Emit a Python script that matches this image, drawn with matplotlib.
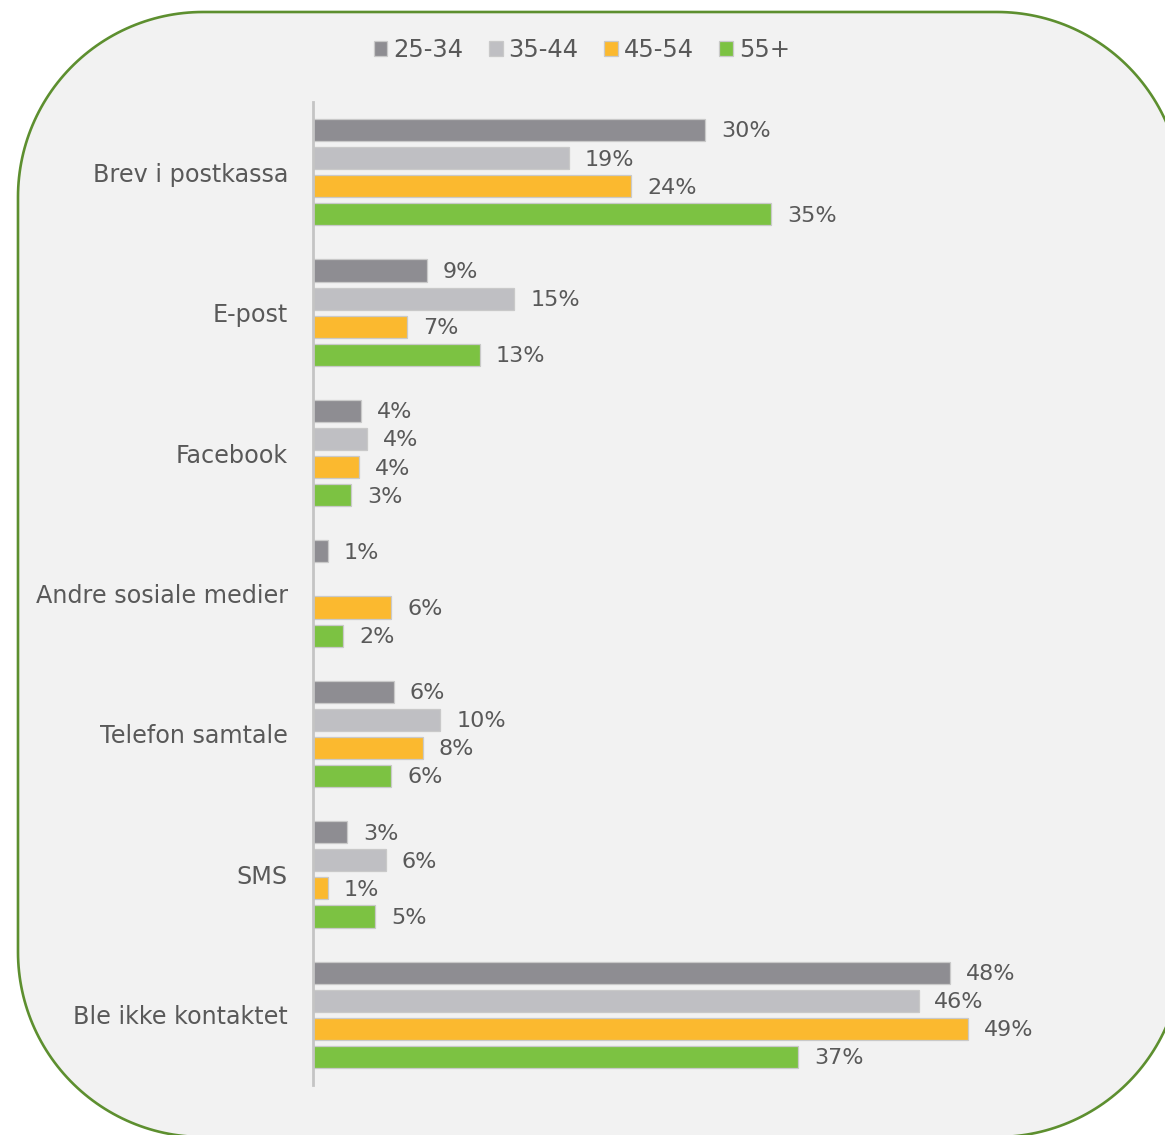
import matplotlib.pyplot as plt
from matplotlib.patches import Polygon
import numpy as np

# data
categories = ["Brev i postkassa", "E-post", "Facebook", "Andre sosiale medier",
              "Telefon samtale", "SMS", "Ble ikke kontaktet"]
groups = ["25-34", "35-44", "45-54", "55+"]
v_25_34 = [29.6, 8.6, 3.6, 1.1, 6.1, 2.6, 48.1]
v_35_44 = [19.3, 15.2, 4.1, 0, 9.6, 5.5, 45.7]
v_45_54 = [24.0, 7.1, 3.5, 5.9, 8.3, 1.1, 49.4]
v_55 = [34.6, 12.6, 2.9, 2.3, 5.9, 4.7, 36.6]
colors = ["#8e8d92", "#bfbfc3", "#fbb92f", "#7cc242"]

W, H = 1165, 1135
fig = plt.figure(figsize=(W / 100, H / 100), dpi=100)
fig.patch.set_facecolor("white")

# rounded background panel with circular corners (runs off right/bottom edges)
bg = fig.add_axes([0, 0, 1, 1])
bg.set_xlim(0, W)
bg.set_ylim(H, 0)
bg.axis("off")
x0, y0, x1, y1, r = 18, 12, 1182, 1137, 185
pts = []
for cx, cy, a0 in [(x0 + r, y0 + r, 180), (x1 - r, y0 + r, 270),
                   (x1 - r, y1 - r, 0), (x0 + r, y1 - r, 90)]:
    t = np.radians(np.linspace(a0, a0 + 90, 60))
    pts += list(zip(cx + r * np.cos(t), cy + r * np.sin(t)))
bg.add_patch(Polygon(pts, closed=True, facecolor="#f2f2f2",
                     edgecolor="#5d8f2f", linewidth=1.9))

ax = fig.add_axes([313 / W, 1 - 1085 / H, (1100 - 313) / W, (1085 - 102) / H])
ax.patch.set_alpha(0)

y = np.arange(len(categories))
series = [v_25_34, v_35_44, v_45_54, v_55]
for i, (vals, c, g) in enumerate(zip(series, colors, groups)):
    pos = y - 0.3 + 0.2 * i
    ax.barh(pos, vals, height=0.158, color=c, edgecolor="#c9c9c9", linewidth=0.9, label=g)
    for p, v in zip(pos, vals):
        if v > 0:
            ax.text(v + 1.2, p + 0.01, f"{v:.0f}%", va="center", ha="left",
                    fontsize=16, color="#595959")

ax.set_xlim(0, 787 / 13.25)
ax.set_ylim(len(categories) - 0.5, -0.5)
ax.set_yticks(y)
ax.set_yticklabels(categories, fontsize=17.2, color="#595959")
ax.tick_params(axis="y", length=0, pad=18)
ax.set_xticks([])
for s in ["top", "right", "bottom"]:
    ax.spines[s].set_visible(False)
ax.spines["left"].set_color("#c4c4c4")
ax.spines["left"].set_linewidth(2)

fig.legend(loc="center", bbox_to_anchor=(582 / W, 1 - 50 / H), ncol=4, frameon=False,
           fontsize=17.5, handlelength=0.55, handleheight=0.55, handletextpad=0.25,
           columnspacing=1.05, labelcolor="#595959")

fig.savefig("out.png", dpi=100)
